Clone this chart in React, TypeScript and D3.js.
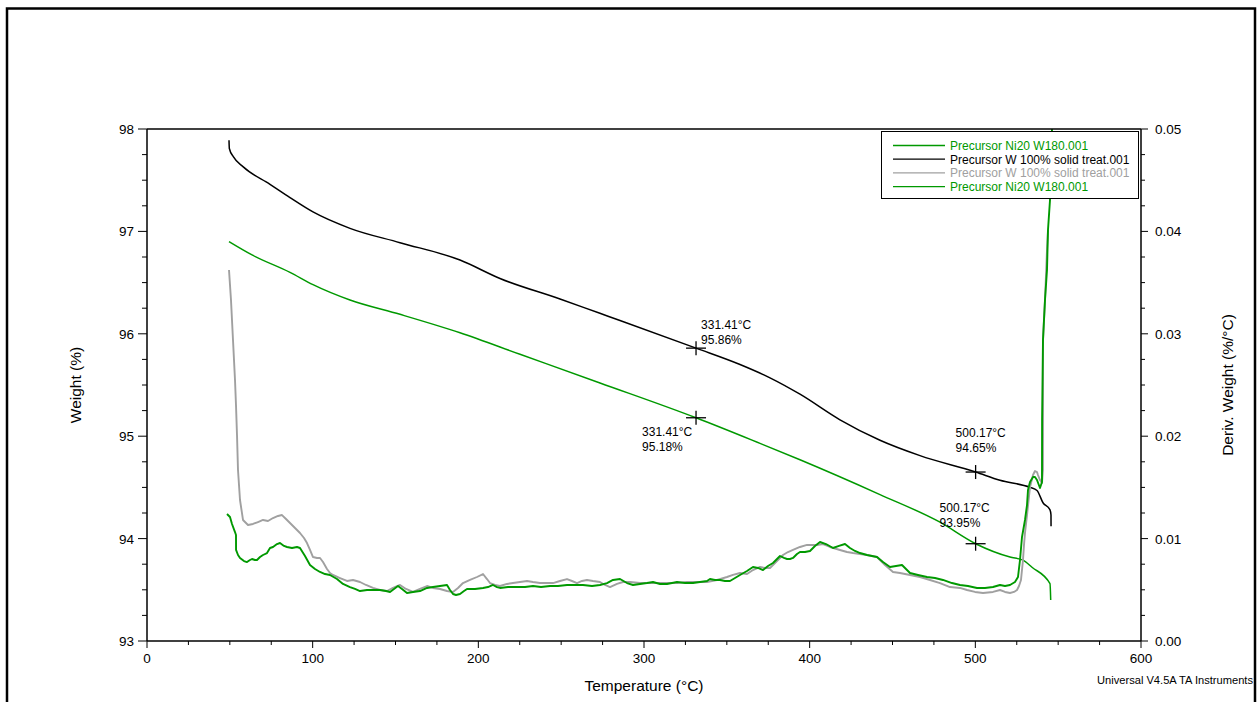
import React from "react";
import * as d3 from "d3";

// ---------- DATA ----------
// Weight (%) vs temperature (°C)
const blackWeightT = [49.5, 49.7, 52.1, 58.1, 74.25, 86.32, 100.2, 122.53, 152.72, 188.93, 213.08, 249.3, 273.4, 285.51, 331.41, 357.95, 376.06, 394.16, 418.31, 442.45, 466.6, 500.17, 514.89, 533.0, 537.22, 540.84, 545.07, 545.67, 545.7];
const blackWeight = [97.89, 97.81, 97.73, 97.63, 97.46, 97.33, 97.19, 97.03, 96.89, 96.72, 96.54, 96.34, 96.2, 96.13, 95.86, 95.7, 95.57, 95.41, 95.16, 94.96, 94.81, 94.65, 94.57, 94.5, 94.47, 94.35, 94.28, 94.23, 94.12];

const greenWeightT = [49.5, 63.4, 86.32, 100.2, 122.53, 152.72, 188.93, 225.15, 273.44, 331.41, 370.02, 394.16, 442.45, 478.67, 500.17, 520.92, 528.77, 534.2, 545.07, 545.5];
const greenWeight = [96.9, 96.77, 96.6, 96.48, 96.33, 96.19, 96.01, 95.8, 95.52, 95.18, 94.93, 94.77, 94.43, 94.16, 93.95, 93.82, 93.79, 93.72, 93.56, 93.4];

// Derivative weight (%/°C) vs temperature (°C)
const grayDerivT = [49.5, 50.7, 51.91, 53.12, 53.72, 54.33, 54.93, 56.14, 57.95, 60.97, 63.98, 67.0, 70.02, 73.04, 76.06, 79.07, 81.49, 83.9, 86.32, 89.34, 92.35, 94.77, 96.58, 98.39, 100.2, 102.62, 104.43, 106.24, 108.65, 110.46, 112.27, 116.5, 120.72, 124.35, 128.57, 132.19, 136.42, 140.64, 144.87, 148.49, 152.72, 156.34, 160.56, 164.79, 169.01, 172.64, 176.86, 181.09, 184.71, 187.73, 190.74, 194.97, 199.19, 202.82, 205.23, 207.04, 210.06, 213.08, 217.3, 220.92, 225.15, 229.38, 233.0, 237.22, 241.45, 245.07, 249.3, 253.52, 256.54, 259.56, 262.57, 265.59, 269.21, 273.44, 276.46, 279.48, 283.7, 287.32, 291.55, 297.58, 303.62, 308.45, 313.88, 319.92, 325.95, 331.99, 338.03, 344.06, 350.1, 353.72, 357.95, 362.17, 365.79, 370.02, 373.04, 376.06, 380.28, 383.9, 386.92, 389.94, 394.16, 398.39, 401.41, 404.43, 408.05, 412.27, 418.31, 422.53, 426.16, 430.38, 434.61, 440.64, 445.47, 450.3, 454.53, 460.56, 466.6, 472.63, 478.67, 484.71, 490.74, 494.97, 499.8, 504.63, 510.66, 514.89, 517.91, 520.92, 523.34, 525.15, 526.36, 527.56, 528.77, 529.37, 529.98, 531.19, 533.0, 534.81, 536.01, 537.22, 537.83, 539.03, 540.24, 540.8, 540.84, 540.86, 542.05, 543.26, 543.86];
const grayDeriv = [0.03623, 0.0333, 0.02939, 0.02549, 0.02305, 0.02012, 0.0167, 0.01377, 0.01182, 0.01133, 0.01143, 0.01162, 0.01182, 0.01172, 0.01201, 0.01221, 0.0123, 0.01191, 0.01152, 0.01104, 0.01055, 0.01006, 0.00957, 0.00889, 0.0082, 0.00811, 0.00811, 0.00771, 0.00703, 0.00664, 0.00645, 0.00615, 0.00586, 0.00596, 0.00576, 0.00547, 0.00518, 0.00498, 0.00488, 0.00518, 0.00547, 0.00508, 0.00479, 0.00508, 0.00537, 0.00518, 0.00508, 0.00488, 0.00479, 0.00518, 0.00566, 0.00596, 0.00625, 0.00654, 0.00605, 0.00566, 0.00547, 0.00537, 0.00557, 0.00566, 0.00576, 0.00586, 0.00576, 0.00566, 0.00566, 0.00566, 0.00586, 0.00605, 0.00586, 0.00566, 0.00586, 0.00596, 0.00586, 0.00576, 0.00547, 0.00527, 0.00557, 0.00576, 0.00576, 0.00566, 0.00566, 0.00566, 0.00566, 0.00566, 0.00576, 0.00576, 0.00576, 0.00596, 0.00625, 0.00645, 0.00664, 0.00654, 0.00693, 0.00723, 0.00713, 0.00713, 0.00781, 0.0084, 0.00869, 0.00889, 0.00918, 0.00938, 0.00938, 0.00938, 0.00947, 0.00918, 0.00889, 0.00869, 0.00859, 0.0085, 0.0084, 0.0082, 0.00742, 0.00674, 0.00664, 0.00645, 0.00625, 0.00596, 0.00566, 0.00527, 0.00518, 0.00498, 0.00479, 0.00469, 0.00479, 0.00498, 0.00479, 0.00469, 0.00479, 0.00498, 0.00537, 0.00596, 0.00791, 0.00938, 0.01055, 0.0123, 0.01504, 0.01621, 0.0166, 0.0165, 0.01621, 0.01572, 0.01543, 0.0167, 0.02158, 0.02939, 0.0333, 0.03818, 0.04014];

const greenDerivT = [48.29, 50.1, 51.31, 53.12, 53.72, 53.75, 54.93, 56.14, 58.55, 60.36, 62.17, 63.38, 65.19, 66.4, 68.21, 70.02, 72.43, 74.25, 76.06, 78.47, 80.28, 82.7, 84.51, 87.52, 90.54, 92.35, 95.37, 98.39, 101.41, 104.43, 107.44, 110.46, 114.69, 118.31, 122.53, 125.55, 128.57, 132.8, 136.42, 140.64, 144.27, 146.68, 149.09, 151.51, 153.92, 156.94, 160.56, 164.79, 169.01, 172.64, 176.86, 181.09, 182.9, 184.71, 186.52, 188.93, 191.35, 193.16, 197.99, 202.82, 205.83, 208.85, 211.27, 213.08, 217.91, 223.34, 228.17, 233.0, 237.83, 243.26, 248.09, 253.52, 258.35, 263.18, 268.61, 273.44, 277.67, 281.29, 285.51, 289.74, 293.36, 297.58, 301.81, 305.43, 309.66, 313.88, 316.9, 319.92, 324.75, 329.58, 333.8, 338.03, 339.84, 342.86, 345.87, 348.89, 351.91, 354.93, 357.95, 362.17, 365.79, 368.81, 371.83, 374.85, 377.87, 380.28, 382.09, 384.51, 386.32, 388.13, 389.94, 392.35, 394.16, 397.18, 400.2, 403.22, 406.24, 409.86, 414.08, 417.71, 421.33, 424.34, 427.36, 430.38, 434.61, 440.64, 444.26, 448.49, 452.11, 455.73, 458.15, 460.56, 465.39, 470.82, 475.65, 480.48, 485.91, 490.74, 495.57, 501.0, 505.83, 510.66, 514.89, 517.91, 520.92, 523.94, 525.75, 526.96, 528.17, 529.98, 531.19, 531.79, 533.0, 534.81, 536.01, 537.22, 539.03, 540.24, 540.3, 540.84, 542.05, 543.26, 543.86, 545.07, 545.67, 546.28];
const greenDeriv = [0.0124, 0.01211, 0.01143, 0.01064, 0.01035, 0.00889, 0.0084, 0.00811, 0.00781, 0.00771, 0.00791, 0.00801, 0.00791, 0.00791, 0.0082, 0.0084, 0.00859, 0.00908, 0.00918, 0.00947, 0.00957, 0.00928, 0.00918, 0.00908, 0.00918, 0.00908, 0.0083, 0.00742, 0.00703, 0.00674, 0.00654, 0.00645, 0.00605, 0.00557, 0.00527, 0.00508, 0.00488, 0.00498, 0.00498, 0.00498, 0.00488, 0.00479, 0.00508, 0.00537, 0.00508, 0.00469, 0.00479, 0.00488, 0.00518, 0.00527, 0.00537, 0.00547, 0.00498, 0.00459, 0.00449, 0.00459, 0.00488, 0.00508, 0.00508, 0.00518, 0.00527, 0.00547, 0.00527, 0.00518, 0.00527, 0.00527, 0.00527, 0.00537, 0.00527, 0.00537, 0.00537, 0.00547, 0.00547, 0.00547, 0.00537, 0.00547, 0.00566, 0.00596, 0.00605, 0.00566, 0.00547, 0.00557, 0.00566, 0.00576, 0.00557, 0.00557, 0.00566, 0.00576, 0.00566, 0.00566, 0.00576, 0.00586, 0.00605, 0.00596, 0.00596, 0.00586, 0.00586, 0.00615, 0.00645, 0.00684, 0.00723, 0.00713, 0.00693, 0.00732, 0.00762, 0.00801, 0.0083, 0.00811, 0.00801, 0.00801, 0.00811, 0.0085, 0.00869, 0.00869, 0.00879, 0.00928, 0.00967, 0.00947, 0.00908, 0.00928, 0.00947, 0.00908, 0.00879, 0.00859, 0.0084, 0.0082, 0.00771, 0.00723, 0.00732, 0.00742, 0.00703, 0.00664, 0.00645, 0.00625, 0.00615, 0.00596, 0.00566, 0.00547, 0.00537, 0.00518, 0.00518, 0.00527, 0.00547, 0.00537, 0.00547, 0.00576, 0.00625, 0.00791, 0.01016, 0.01182, 0.01328, 0.01475, 0.01553, 0.01602, 0.01602, 0.01572, 0.01494, 0.01553, 0.02158, 0.02939, 0.0333, 0.03623, 0.04014, 0.04307, 0.04697, 0.05];

const legendLabels = [
  "Precursor Ni20 W180.001",
  "Precursor W 100% solid treat.001",
  "Precursor W 100% solid treat.001",
  "Precursor Ni20 W180.001",
];

// annotated points: temperature, weight
const annotTemps = [331.41, 331.41, 500.17, 500.17];
const annotWeights = [95.86, 95.18, 94.65, 93.95];

const xTicks = [0, 100, 200, 300, 400, 500, 600];
const yLeftTicks = [93, 94, 95, 96, 97, 98];
const yRightTicks = [0.0, 0.01, 0.02, 0.03, 0.04, 0.05];

// ---------- STYLE / LAYOUT ----------
const W = 1259;
const H = 702;
const L = 147, R = 1141, T = 129, B = 641;
const GREEN = "#009900";
const GRAY = "#a0a0a0";
const FONT = "'Liberation Sans', Arial, sans-serif";
const annotOffsets = [
  [5, -19],
  [-54, 18],
  [-20, -35],
  [-36, -32],
];

export default function App() {
  const x = d3.scaleLinear().domain([0, 600]).range([L, R]);
  const yL = d3.scaleLinear().domain([93, 98]).range([B, T]);
  const yR = d3.scaleLinear().domain([0, 0.05]).range([B, T]);

  const mk = (ts: number[], vs: number[], ys: d3.ScaleLinear<number, number>, curve: d3.CurveFactory) =>
    d3.line<number>().x((_, i) => x(ts[i])).y((v) => ys(v)).curve(curve)(vs) || "";

  const xMinor = d3.range(0, 600.01, 25).filter((v) => v % 100 !== 0);
  const yLMinor = d3.range(93, 98.001, 0.25).filter((v) => Math.abs(v - Math.round(v)) > 1e-6);
  const yRMinor = d3.range(0, 0.05001, 0.0025).filter((v) => Math.abs(v * 100 - Math.round(v * 100)) > 1e-6);

  const series = [
    { d: mk(greenWeightT, greenWeight, yL, d3.curveMonotoneX), c: GREEN, w: 1.5 },
    { d: mk(blackWeightT, blackWeight, yL, d3.curveMonotoneX), c: "#000", w: 1.5 },
    { d: mk(grayDerivT, grayDeriv, yR, d3.curveLinear), c: GRAY, w: 1.9 },
    { d: mk(greenDerivT, greenDeriv, yR, d3.curveLinear), c: GREEN, w: 1.9 },
  ];
  const legendColors = [GREEN, "#000", GRAY, GREEN];

  return (
    <div style={{ position: "absolute", left: 0, top: 0 }}>
      <svg width={W} height={H} style={{ display: "block", fontFamily: FONT }}>
        <rect x={0} y={0} width={W} height={H} fill="#fff" />
        <rect x={7} y={8.5} width={1248} height={720} fill="none" stroke="#000" strokeWidth={2.5} />
        <defs>
          <clipPath id="plot">
            <rect x={L} y={T} width={R - L} height={B - T} />
          </clipPath>
        </defs>

        <g clipPath="url(#plot)" fill="none" strokeLinejoin="round">
          {series.map((s, i) => (
            <path key={i} d={s.d} stroke={s.c} strokeWidth={s.w} />
          ))}
        </g>

        <g stroke="#000" strokeWidth={1.5}>
          <line x1={L} x2={R} y1={T} y2={T} />
          <line x1={L} x2={R} y1={B} y2={B} />
          <line x1={L} x2={L} y1={T} y2={B} />
          <line x1={R} x2={R} y1={T} y2={B} />
        </g>

        <g stroke="#000" strokeWidth={1}>
          {xTicks.map((t) => (
            <line key={t} x1={x(t)} x2={x(t)} y1={B} y2={B + 7} />
          ))}
          {xMinor.map((t) => (
            <line key={t} x1={x(t)} x2={x(t)} y1={B} y2={B + 4} />
          ))}
          {yLeftTicks.map((t) => (
            <line key={t} x1={L - 9} x2={L} y1={yL(t)} y2={yL(t)} />
          ))}
          {yLMinor.map((t) => (
            <line key={t} x1={L - 5} x2={L} y1={yL(t)} y2={yL(t)} />
          ))}
          {yRightTicks.map((t) => (
            <line key={t} x1={R} x2={R + 7} y1={yR(t)} y2={yR(t)} />
          ))}
          {yRMinor.map((t) => (
            <line key={t} x1={R} x2={R + 4} y1={yR(t)} y2={yR(t)} />
          ))}
        </g>
        <g fontSize={13.5} fill="#000">
          {xTicks.map((t) => (
            <text key={t} x={x(t)} y={663} textAnchor="middle">{t}</text>
          ))}
          {yLeftTicks.map((t) => (
            <text key={t} x={134} y={yL(t) + 5} textAnchor="end">{t}</text>
          ))}
          {yRightTicks.map((t) => (
            <text key={t} x={1155} y={yR(t) + 5} textAnchor="start">{t.toFixed(2)}</text>
          ))}
        </g>
        <text x={(L + R) / 2} y={691} textAnchor="middle" fontSize={15.5}>Temperature (°C)</text>
        <text transform={`translate(81,${(T + B) / 2}) rotate(-90)`} textAnchor="middle" fontSize={15.5}>Weight (%)</text>
        <text transform={`translate(1233,${(T + B) / 2}) rotate(-90)`} textAnchor="middle" fontSize={15.5}>Deriv. Weight (%/°C)</text>
        <text x={1253} y={684} textAnchor="end" fontSize={11.5} textLength={156} lengthAdjust="spacingAndGlyphs">Universal V4.5A TA Instruments</text>

        {annotTemps.map((t, i) => {
          const cx = x(t);
          const cy = yL(annotWeights[i]);
          const [dx, dy] = annotOffsets[i];
          return (
            <g key={i}>
              <line x1={cx - 10} x2={cx + 10} y1={cy} y2={cy} stroke="#000" strokeWidth={1.3} />
              <line x1={cx} x2={cx} y1={cy - 7} y2={cy + 7} stroke="#000" strokeWidth={1.3} />
              <text x={cx + dx} y={cy + dy} fontSize={12}>{t.toFixed(2)}°C</text>
              <text x={cx + dx} y={cy + dy + 15} fontSize={12}>{annotWeights[i].toFixed(2)}%</text>
            </g>
          );
        })}

        <g>
          <rect x={881.5} y={131.5} width={257} height={67} fill="#fff" stroke="#000" strokeWidth={1} />
          {legendLabels.map((lab, i) => {
            const yy = 145.5 + i * 13.7;
            return (
              <g key={i}>
                <line x1={893} x2={945} y1={yy} y2={yy} stroke={legendColors[i]} strokeWidth={1.3} />
                <text x={950} y={yy + 4.3} fontSize={12} fill={legendColors[i]}>{lab}</text>
              </g>
            );
          })}
        </g>
      </svg>
    </div>
  );
}
